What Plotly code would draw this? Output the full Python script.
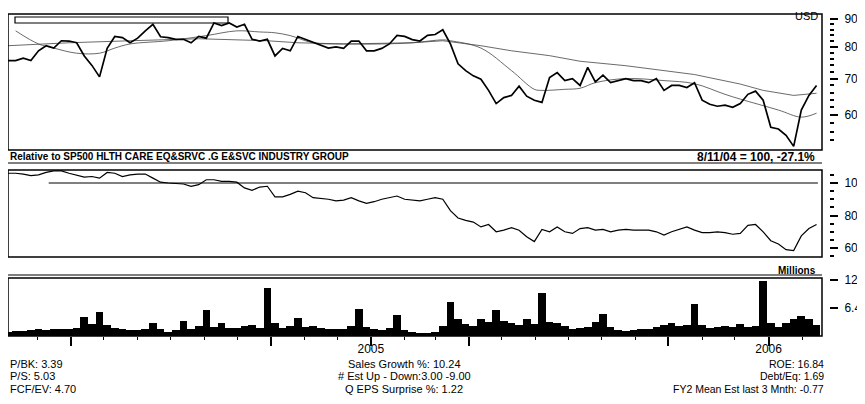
import math
import pandas as pd
import plotly.graph_objects as go

# weekly closes (USD), Feb 2004 - Feb 2006
price = [75.5, 75.5, 76.3, 75.5, 78.7, 80.4, 79.6, 82.1, 82.0, 81.4,
         77.0, 74.0, 70.5, 79.5, 83.6, 83.2, 81.4, 83.0, 85.6, 88.0,
         83.5, 83.2, 82.6, 82.6, 81.4, 83.6, 83.0, 88.5, 87.5, 88.5,
         87.0, 88.0, 82.6, 82.0, 82.6, 77.0, 79.5, 78.7, 83.6, 82.6,
         81.4, 80.4, 79.6, 80.0, 79.5, 82.0, 82.0, 78.7, 78.7, 79.5,
         81.0, 84.0, 83.6, 82.5, 82.0, 84.0, 84.3, 86.0, 81.0, 74.5,
         72.4, 70.8, 69.8, 66.6, 63.0, 64.6, 65.2, 67.8, 65.0, 63.9,
         63.3, 70.3, 71.8, 69.4, 70.0, 68.0, 73.4, 69.0, 71.0, 68.8,
         69.4, 70.0, 69.4, 69.4, 68.8, 70.0, 66.6, 68.0, 68.0, 67.4,
         68.8, 63.9, 62.8, 62.3, 62.6, 62.0, 63.0, 65.5, 66.4, 63.9,
         57.0, 56.6, 55.1, 52.6, 61.3, 65.2, 68.0]

# moving averages, sampled at week numbers
ma_short_wk = [1, 4, 6, 9, 12, 14, 16, 21, 26, 30, 33, 35, 37, 40, 44, 49, 53,
               57, 58, 62, 66, 69, 70, 73, 75, 77, 81, 86, 90, 94, 96, 101, 104, 106]
ma_short = [85.6, 81.0, 79.6, 77.9, 77.9, 79.6, 81.0, 82.1, 83.9, 85.6, 85.2, 84.9,
            83.9, 81.4, 81.0, 81.0, 81.4, 82.4, 82.1, 79.6, 72.4, 66.9, 66.6, 66.9,
            67.2, 68.8, 70.0, 69.4, 68.5, 65.5, 64.2, 61.3, 59.5, 60.5]
ma_long_wk = [0, 8, 16, 25, 34, 38, 44, 53, 57, 62, 66, 71, 75, 81, 90, 96, 99, 103, 106]
ma_long = [80.4, 81.4, 82.1, 82.8, 82.1, 81.4, 81.0, 81.4, 82.1, 80.4, 78.7, 77.1,
           75.3, 73.9, 71.2, 68.4, 66.6, 65.2, 65.8]

# relative to industry group (8/11/04 = 100)
relative = [106, 106, 105.5, 104.5, 105, 106.5, 107.5, 107.5, 106, 105,
            103.6, 104, 103, 106.5, 106, 104, 105, 105.5, 105.5, 103,
            100.5, 100, 99.7, 99.4, 98, 99, 102, 102, 101, 101,
            100.5, 97, 95.5, 97.5, 98, 91.5, 91.5, 93, 95, 94,
            91, 90.5, 90, 89, 89.5, 91, 89, 87.5, 88.5, 90,
            91, 92, 90, 89.5, 89, 90, 91, 90, 83, 78.5,
            77, 76, 73, 74.5, 70, 71, 72.5, 71, 67, 64,
            71.5, 70, 73, 70, 69, 72, 72.5, 71, 71.5, 70,
            71, 71.5, 71, 71, 71, 70, 68, 70, 71.5, 73,
            71, 69.5, 69.5, 70, 69.5, 68.5, 69, 74, 74.5, 70,
            64.5, 62.5, 59, 58.5, 67.5, 72, 74.5]

# volume, millions
volume = [1.0, 1.2, 1.1, 1.3, 1.5, 1.4, 1.5, 1.6, 1.7, 1.9,
          4.3, 2.8, 5.4, 2.5, 1.8, 1.6, 1.4, 1.3, 1.5, 2.9,
          1.6, 1.0, 1.4, 3.4, 1.7, 2.2, 5.9, 2.0, 3.0, 1.8,
          1.9, 2.3, 2.6, 1.9, 11.0, 3.0, 1.8, 2.2, 4.1, 2.0,
          2.3, 1.8, 1.6, 1.5, 1.7, 2.4, 6.2, 2.0, 1.5, 1.4,
          1.8, 4.7, 1.3, 0.9, 0.8, 0.8, 0.9, 2.2, 7.8, 4.0,
          2.8, 2.4, 4.0, 3.2, 5.9, 3.5, 3.0, 2.5, 4.0, 2.8,
          9.8, 3.2, 3.0, 2.2, 1.7, 1.8, 2.0, 3.1, 5.0, 2.0,
          1.4, 1.2, 1.3, 1.6, 1.7, 2.0, 2.6, 3.0, 2.4, 2.6,
          7.4, 2.5, 1.8, 2.0, 2.2, 2.0, 2.7, 2.0, 2.4, 12.6,
          3.0, 2.0, 3.0, 3.8, 4.5, 4.0, 2.5]

price_ticks = [60, 70, 80, 90]
price_minor = [54, 56, 58, 62, 64, 66, 68, 72, 74, 76, 78, 82, 84, 86, 88]
rel_ticks = [60, 80, 100]
vol_ticks = [6.4, 12.8]
quarters = ['2004-04-01', '2004-10-01', '2005-01-01', '2005-04-01',
            '2005-10-01', '2006-01-01']
quarter_text = ['', '', '2005', '', '', '2006']
julys = ['2004-07-01', '2005-07-01']

left_notes = ['P/BK: 3.39', 'P/S: 5.03', 'FCF/EV: 4.70']
mid_notes = ['Sales Growth %: 10.24', '# Est Up - Down:3.00 -9.00', 'Q EPS Surprise %: 1.22']
right_notes = ['ROE: 16.84', 'Debt/Eq: 1.69', 'FY2 Mean Est last 3 Mnth: -0.77']

weeks = pd.date_range('2004-02-03', periods=len(price), freq='7D')
x_range = ['2004-02-03', '2006-02-19']

FONT = 'Liberation Sans, Arial, sans-serif'
# the page puts the chart 8px in from the top-left corner, so the layout
# below works in screen pixels and takes that offset off
OFF = 8
PAPER_W = 832
PLOT_H = 328
XD = 814 / PAPER_W       # plot width inside paper
YP = 821 / PAPER_W       # where the right axes sit


def px_x(sx):
    return (sx - OFF) / PAPER_W


def px_y(sy):
    return (336 - sy) / PLOT_H


fig = go.Figure()

fig.add_trace(go.Scatter(x=weeks[ma_long_wk], y=ma_long, mode='lines',
                         line=dict(color='#444', width=0.8), xaxis='x', yaxis='y'))
fig.add_trace(go.Scatter(x=weeks[ma_short_wk], y=ma_short, mode='lines',
                         line=dict(color='#444', width=0.8, shape='spline'),
                         xaxis='x', yaxis='y'))
fig.add_trace(go.Scatter(x=weeks, y=price, mode='lines',
                         line=dict(color='black', width=1.7), xaxis='x', yaxis='y'))
fig.add_trace(go.Scatter(x=weeks, y=relative, mode='lines',
                         line=dict(color='black', width=1.2), xaxis='x2', yaxis='y2'))
fig.add_trace(go.Bar(x=weeks, y=volume, width=7 * 86400000, marker_color='black',
                     marker_line_width=0, xaxis='x3', yaxis='y3'))

xbase = dict(domain=[0, XD], range=x_range, type='date', showgrid=False,
             zeroline=False, showline=False, showticklabels=False, ticks='',
             automargin=False)
ybase = dict(anchor='free', position=YP, side='right', showgrid=False, zeroline=False,
             showline=False, ticks='outside', ticklen=8, tickwidth=1.5,
             tickcolor='black', ticklabelstandoff=4, automargin=False,
             tickfont=dict(size=12, family=FONT, color='black'))

fig.update_layout(
    width=865, height=404,
    margin=dict(l=0, r=865 - PAPER_W, t=0, b=404 - PLOT_H, autoexpand=False),
    paper_bgcolor='white', plot_bgcolor='white',
    showlegend=False, bargap=0,
    font=dict(family=FONT, size=11, color='black'),
    xaxis=dict(xbase, anchor='y'),
    xaxis2=dict(xbase, anchor='y2'),
    xaxis3=dict(xbase, anchor='y3', tickmode='array', tickvals=quarters,
                ticktext=quarter_text, showticklabels=True, ticks='outside',
                ticklen=9, tickwidth=1.5, tickcolor='black', ticklabelstandoff=-7,
                tickfont=dict(size=12, family=FONT, color='black'),
                minor=dict(ticks='outside', ticklen=3, tickwidth=1, tickcolor='black',
                           tickmode='linear', tick0='2004-01-01', dtick='M1')),
    xaxis4=dict(xbase, anchor='y3', overlaying='x3', tickmode='array',
                tickvals=julys, ticks='outside', ticklen=17, tickwidth=1.5,
                tickcolor='black'),
    yaxis=dict(ybase, domain=[px_y(150), px_y(14)], type='log',
               range=[math.log10(51.8), math.log10(91.9)],
               tickmode='array', tickvals=price_ticks,
               minor=dict(ticks='outside', ticklen=4, tickwidth=1.5,
                          tickcolor='black', tickvals=price_minor)),
    yaxis2=dict(ybase, domain=[px_y(257), px_y(170)], range=[54.5, 108],
                tickmode='array', tickvals=rel_ticks,
                minor=dict(ticks='outside', ticklen=4, tickwidth=1.5,
                           tickcolor='black', dtick=5, tick0=0)),
    yaxis3=dict(ybase, domain=[0, px_y(278)], range=[0, 13.26],
                tickmode='array', tickvals=vol_ticks),
)

# panel frames
for xr_, yr_ in [('x', 'y'), ('x2', 'y2'), ('x3', 'y3')]:
    fig.add_shape(type='rect', xref=xr_ + ' domain', yref=yr_ + ' domain',
                  x0=0, x1=1, y0=0, y1=1, line=dict(color='black', width=1.5))

# 100 reference line on the relative panel
fig.add_shape(type='line', xref='x2 domain', yref='y2', x0=0.05, x1=0.995,
              y0=100, y1=100, line=dict(color='black', width=1))

# header rules
for rule_y in [163, 275]:
    fig.add_shape(type='line', xref='paper', yref='paper', x0=0, x1=XD,
                  y0=px_y(rule_y), y1=px_y(rule_y), line=dict(color='black', width=1.2))

# empty legend box
fig.add_shape(type='rect', xref='paper', yref='paper', x0=px_x(15), x1=px_x(228),
              y0=px_y(23), y1=px_y(17), line=dict(color='black', width=1.2))


def note(text, x, y, anchor, bold=False, size=11, vanchor='middle'):
    fig.add_annotation(text=('<b>%s</b>' % text) if bold else text,
                       xref='paper', yref='paper', x=x, y=y, xanchor=anchor,
                       yanchor=vanchor, showarrow=False,
                       font=dict(size=size, family=FONT, color='black'))


note('USD', px_x(820), 1.0, 'right', size=11, vanchor='top')
note('Relative to SP500 HLTH CARE EQ&amp;SRVC .G E&amp;SVC INDUSTRY GROUP',
     0, px_y(156), 'left', bold=True, size=10)
note('8/11/04 = 100, -27.1%', px_x(817), px_y(157), 'right', bold=True, size=12)
note('Millions', px_x(818), px_y(270), 'right', bold=True, size=10)

for i, row in enumerate([364, 376, 389]):
    note(left_notes[i], 0, px_y(row), 'left')
    note(mid_notes[i], px_x(404), px_y(row), 'center')
    note(right_notes[i], px_x(826), px_y(row), 'right', size=10.5)

fig.write_html("out.html")
